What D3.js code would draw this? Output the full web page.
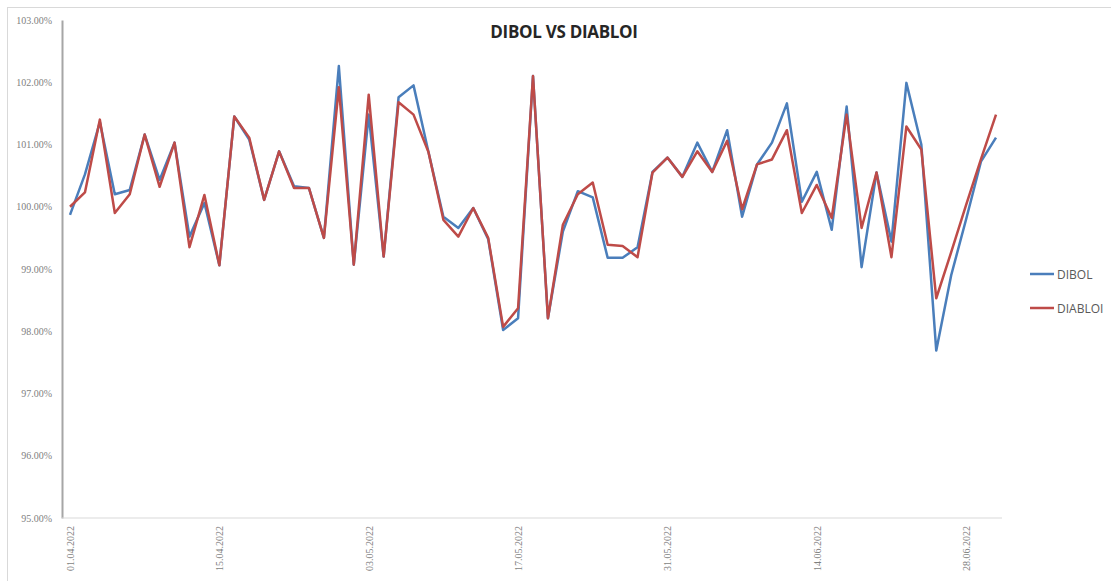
<!DOCTYPE html>
<html><head><meta charset="utf-8">
<script src="https://cdn.jsdelivr.net/npm/d3@7"></script>
<style>body{margin:0;background:#fff}svg{display:block}</style>
</head><body>
<svg id="chart" width="1111" height="581"></svg>
<script>
// trading dates (category axis)
const dates = ["01.04.2022","04.04.2022","05.04.2022","06.04.2022","07.04.2022","08.04.2022","11.04.2022","12.04.2022","13.04.2022","14.04.2022",
"15.04.2022","19.04.2022","20.04.2022","21.04.2022","22.04.2022","25.04.2022","26.04.2022","27.04.2022","28.04.2022","29.04.2022",
"03.05.2022","04.05.2022","05.05.2022","06.05.2022","09.05.2022","10.05.2022","11.05.2022","12.05.2022","13.05.2022","16.05.2022",
"17.05.2022","18.05.2022","19.05.2022","20.05.2022","23.05.2022","24.05.2022","25.05.2022","26.05.2022","27.05.2022","30.05.2022",
"31.05.2022","01.06.2022","02.06.2022","03.06.2022","06.06.2022","07.06.2022","08.06.2022","09.06.2022","10.06.2022","13.06.2022",
"14.06.2022","15.06.2022","16.06.2022","17.06.2022","20.06.2022","21.06.2022","22.06.2022","23.06.2022","24.06.2022","27.06.2022",
"28.06.2022","29.06.2022","30.06.2022"];
const tickLabels = ["01.04.2022","15.04.2022","03.05.2022","17.05.2022","31.05.2022","14.06.2022","28.06.2022"];
const dibol = [99.87,100.52,101.36,100.20,100.27,101.16,100.43,101.03,99.52,100.06,
99.06,101.45,101.08,100.11,100.89,100.33,100.30,99.50,102.26,99.07,
101.48,99.20,101.76,101.95,100.88,99.84,99.66,99.98,99.48,98.02,
98.21,102.10,98.21,99.60,100.25,100.15,99.18,99.18,99.35,100.56,
100.79,100.48,101.03,100.56,101.23,99.84,100.68,101.03,101.66,100.08,
100.56,99.63,101.61,99.03,100.55,99.44,101.99,101.00,97.69,98.90,
99.80,100.73,101.11];
const diabloi = [100.00,100.23,101.40,99.90,100.20,101.16,100.32,101.03,99.35,100.19,
99.06,101.45,101.11,100.11,100.89,100.30,100.30,99.50,101.92,99.07,
101.80,99.20,101.68,101.48,100.88,99.79,99.52,99.98,99.50,98.07,
98.37,102.10,98.21,99.71,100.20,100.39,99.39,99.37,99.19,100.55,
100.79,100.48,100.89,100.56,101.06,99.96,100.68,100.76,101.23,99.90,
100.35,99.82,101.48,99.66,100.55,99.19,101.29,100.92,98.53,99.27,
100.03,100.77,101.48];
const yTicks = [95,96,97,98,99,100,101,102,103];
const seriesNames = ["DIBOL","DIABLOI"];
const colors = ["#4a7ebb","#be4b48"];

(function(){
const svg = d3.select("#chart");
const pLeft = 62, pRight = 1002, pTop = 20, pBottom = 518;

// chart border
svg.append("rect").attr("x",7.5).attr("y",7.5).attr("width",1120).attr("height",590)
  .attr("fill","none").attr("stroke","#d9d9d9").attr("stroke-width",1);

const x = d3.scalePoint().domain(d3.range(dates.length)).range([70, 996]);
const y = d3.scaleLinear().domain([95,103]).range([pBottom, pTop]);

// title
svg.append("text").attr("x",564).attr("y",38).attr("text-anchor","middle")
  .attr("font-family","'Open Sans', sans-serif").attr("font-weight","bold").attr("font-size",17)
  .attr("letter-spacing","-0.3").attr("fill","#262626").text("DIBOL VS DIABLOI");

// y axis
const yAxis = d3.axisLeft(y).tickValues(yTicks).tickSize(0).tickPadding(10)
  .tickFormat(d => d.toFixed(2) + "%");
const gy = svg.append("g").attr("transform",`translate(${pLeft},0)`).call(yAxis);
gy.select(".domain").attr("stroke","#a6a6a6").attr("stroke-width",2);
gy.selectAll("text").attr("font-family","'Liberation Serif', serif").attr("font-size",10).attr("fill","#7f7f7f");

// x axis
const xAxis = d3.axisBottom(x).tickValues(d3.range(0, dates.length, 10)).tickSize(0)
  .tickFormat(i => dates[i]);
const gx = svg.append("g").attr("transform",`translate(0,${pBottom})`).call(xAxis);
gx.select(".domain").attr("d",`M${pLeft},0H${pRight}`).attr("stroke","#d9d9d9").attr("stroke-width",1);
gx.selectAll("text").attr("font-family","'Liberation Serif', serif").attr("font-size",10).attr("fill","#7f7f7f")
  .attr("transform","rotate(-90)").attr("text-anchor","end").attr("dx","-8").attr("dy","3.5").attr("y",0);

// lines
const line = d3.line().x((d,i)=>x(i)).y(d=>y(d));
[dibol, diabloi].forEach((s,k)=>{
  svg.append("path").datum(s).attr("d",line).attr("fill","none")
    .attr("stroke",colors[k]).attr("stroke-width",2.5).attr("stroke-linejoin","round");
});

// legend
const lg = svg.append("g");
seriesNames.forEach((n,k)=>{
  const ly = 274 + k*34;
  lg.append("line").attr("x1",1030).attr("x2",1054).attr("y1",ly).attr("y2",ly)
    .attr("stroke",colors[k]).attr("stroke-width",2.5);
  lg.append("text").attr("x",1057).attr("y",ly+4.5).attr("font-family","'Open Sans', sans-serif")
    .attr("font-size",12).attr("fill","#595959").text(n);
});
})();
</script>
</body></html>
